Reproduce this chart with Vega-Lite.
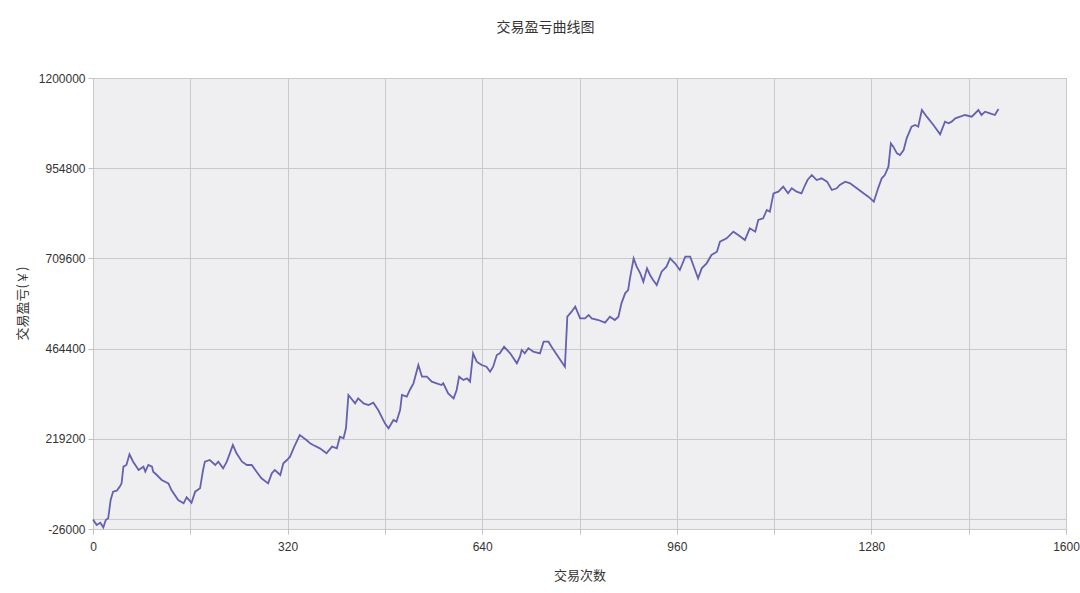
{
  "$schema": "https://vega.github.io/schema/vega-lite/v6.json",
  "width": 973,
  "height": 451,
  "autosize": "none",
  "padding": {"left": 93, "top": 78, "right": 14, "bottom": 64},
  "background": "white",
  "title": {
    "text": "交易盈亏曲线图",
    "anchor": "middle",
    "frame": "group",
    "dx": -34,
    "offset": 37,
    "font": "Noto Sans CJK SC",
    "fontSize": 14,
    "fontWeight": "normal",
    "color": "#333333"
  },
  "encoding": {
    "y": {
      "field": "pnl",
      "type": "quantitative",
      "scale": {"domain": [-26000, 1200000], "nice": false, "zero": false},
      "axis": {
        "title": "交易盈亏(￥)",
        "values": [-26000, 219200, 464400, 709600, 954800, 1200000],
        "labelExpr": "'' + datum.value",
        "titleX": -71,
        "titleY": 225,
        "titleAlign": "center",
        "titleBaseline": "middle",
        "titleAngle": -90
      }
    }
  },
  "layer": [
    {
      "data": {"values": [{"pnl": 0}]},
      "mark": {"type": "rule", "color": "#c9c8cd", "strokeWidth": 1},
      "encoding": {}
    },
    {
      "data": {
        "values": [
          {"trade": 0, "pnl": 0}, {"trade": 6, "pnl": -15100}, {"trade": 12, "pnl": -8800},
          {"trade": 17, "pnl": -21500}, {"trade": 21, "pnl": -1500}, {"trade": 25, "pnl": 3000},
          {"trade": 29, "pnl": 52800}, {"trade": 33, "pnl": 75500}, {"trade": 39, "pnl": 78200},
          {"trade": 44, "pnl": 89100}, {"trade": 47, "pnl": 98100}, {"trade": 50, "pnl": 143400},
          {"trade": 55, "pnl": 148000}, {"trade": 60, "pnl": 177000}, {"trade": 66, "pnl": 157000},
          {"trade": 75, "pnl": 134400}, {"trade": 83, "pnl": 143400}, {"trade": 86, "pnl": 129800},
          {"trade": 91, "pnl": 148000}, {"trade": 97, "pnl": 143400}, {"trade": 99, "pnl": 129800},
          {"trade": 105, "pnl": 120800}, {"trade": 113, "pnl": 107200}, {"trade": 124, "pnl": 98100},
          {"trade": 129, "pnl": 80000}, {"trade": 140, "pnl": 52800}, {"trade": 149, "pnl": 43800},
          {"trade": 154, "pnl": 60100}, {"trade": 162, "pnl": 45600}, {"trade": 168, "pnl": 75500},
          {"trade": 176, "pnl": 84600}, {"trade": 181, "pnl": 134400}, {"trade": 184, "pnl": 157000},
          {"trade": 192, "pnl": 161600}, {"trade": 201, "pnl": 148000}, {"trade": 206, "pnl": 157000},
          {"trade": 214, "pnl": 138900}, {"trade": 220, "pnl": 157000}, {"trade": 225, "pnl": 179700},
          {"trade": 230, "pnl": 202300}, {"trade": 236, "pnl": 179700}, {"trade": 245, "pnl": 157000},
          {"trade": 253, "pnl": 148000}, {"trade": 261, "pnl": 148000}, {"trade": 269, "pnl": 129800},
          {"trade": 277, "pnl": 111700}, {"trade": 288, "pnl": 98100}, {"trade": 294, "pnl": 125300},
          {"trade": 299, "pnl": 134400}, {"trade": 308, "pnl": 120800}, {"trade": 313, "pnl": 152500},
          {"trade": 319, "pnl": 161600}, {"trade": 324, "pnl": 170600}, {"trade": 331, "pnl": 197800},
          {"trade": 340, "pnl": 229500}, {"trade": 351, "pnl": 215900}, {"trade": 357, "pnl": 206900},
          {"trade": 362, "pnl": 202300}, {"trade": 373, "pnl": 193300}, {"trade": 384, "pnl": 179700},
          {"trade": 393, "pnl": 197800}, {"trade": 401, "pnl": 193300}, {"trade": 406, "pnl": 225000},
          {"trade": 412, "pnl": 220500}, {"trade": 416, "pnl": 247700}, {"trade": 420, "pnl": 338300},
          {"trade": 431, "pnl": 315600}, {"trade": 436, "pnl": 329200}, {"trade": 445, "pnl": 315600},
          {"trade": 453, "pnl": 311100}, {"trade": 461, "pnl": 317400}, {"trade": 469, "pnl": 297500},
          {"trade": 480, "pnl": 261300}, {"trade": 486, "pnl": 247700}, {"trade": 494, "pnl": 270300},
          {"trade": 499, "pnl": 265800}, {"trade": 505, "pnl": 297500}, {"trade": 508, "pnl": 338300},
          {"trade": 516, "pnl": 333700}, {"trade": 521, "pnl": 351900}, {"trade": 527, "pnl": 370000},
          {"trade": 535, "pnl": 419800}, {"trade": 541, "pnl": 388100}, {"trade": 549, "pnl": 388100},
          {"trade": 557, "pnl": 374500}, {"trade": 565, "pnl": 370000}, {"trade": 573, "pnl": 365500},
          {"trade": 576, "pnl": 370000}, {"trade": 584, "pnl": 342800}, {"trade": 593, "pnl": 329200},
          {"trade": 598, "pnl": 351900}, {"trade": 602, "pnl": 388100}, {"trade": 609, "pnl": 379000},
          {"trade": 615, "pnl": 383600}, {"trade": 620, "pnl": 374500}, {"trade": 625, "pnl": 451500},
          {"trade": 631, "pnl": 428900}, {"trade": 639, "pnl": 419800}, {"trade": 647, "pnl": 415300},
          {"trade": 653, "pnl": 401700}, {"trade": 658, "pnl": 415300}, {"trade": 664, "pnl": 447000},
          {"trade": 669, "pnl": 451500}, {"trade": 676, "pnl": 469600}, {"trade": 686, "pnl": 451500},
          {"trade": 697, "pnl": 424400}, {"trade": 702, "pnl": 442500}, {"trade": 705, "pnl": 460600},
          {"trade": 710, "pnl": 451500}, {"trade": 716, "pnl": 465100}, {"trade": 724, "pnl": 456100},
          {"trade": 735, "pnl": 451500}, {"trade": 741, "pnl": 483200}, {"trade": 749, "pnl": 483200},
          {"trade": 754, "pnl": 469600}, {"trade": 763, "pnl": 447000}, {"trade": 776, "pnl": 415300},
          {"trade": 780, "pnl": 551200}, {"trade": 787, "pnl": 564800}, {"trade": 793, "pnl": 578400},
          {"trade": 801, "pnl": 546700}, {"trade": 809, "pnl": 546700}, {"trade": 815, "pnl": 555700},
          {"trade": 820, "pnl": 546700}, {"trade": 831, "pnl": 542100}, {"trade": 842, "pnl": 534900},
          {"trade": 850, "pnl": 551200}, {"trade": 858, "pnl": 542100}, {"trade": 864, "pnl": 551200},
          {"trade": 869, "pnl": 587500}, {"trade": 875, "pnl": 614600}, {"trade": 880, "pnl": 623700},
          {"trade": 883, "pnl": 655400}, {"trade": 889, "pnl": 709800}, {"trade": 894, "pnl": 687100},
          {"trade": 900, "pnl": 669000}, {"trade": 905, "pnl": 646300}, {"trade": 911, "pnl": 682600},
          {"trade": 916, "pnl": 664500}, {"trade": 921, "pnl": 650900}, {"trade": 927, "pnl": 637300},
          {"trade": 935, "pnl": 673500}, {"trade": 943, "pnl": 687100}, {"trade": 949, "pnl": 709800},
          {"trade": 957, "pnl": 696200}, {"trade": 965, "pnl": 678100}, {"trade": 974, "pnl": 714300},
          {"trade": 982, "pnl": 714300}, {"trade": 990, "pnl": 678100}, {"trade": 995, "pnl": 655400},
          {"trade": 1001, "pnl": 682600}, {"trade": 1009, "pnl": 696200}, {"trade": 1017, "pnl": 718800},
          {"trade": 1026, "pnl": 727900}, {"trade": 1031, "pnl": 755100}, {"trade": 1042, "pnl": 764200},
          {"trade": 1053, "pnl": 782300}, {"trade": 1061, "pnl": 773200}, {"trade": 1072, "pnl": 759600},
          {"trade": 1080, "pnl": 791300}, {"trade": 1089, "pnl": 782300}, {"trade": 1094, "pnl": 814000},
          {"trade": 1102, "pnl": 818500}, {"trade": 1108, "pnl": 841200}, {"trade": 1113, "pnl": 836600},
          {"trade": 1119, "pnl": 886500}, {"trade": 1127, "pnl": 891000}, {"trade": 1135, "pnl": 904600},
          {"trade": 1143, "pnl": 886500}, {"trade": 1149, "pnl": 900100}, {"trade": 1157, "pnl": 891000},
          {"trade": 1165, "pnl": 886500}, {"trade": 1171, "pnl": 909100}, {"trade": 1175, "pnl": 922700},
          {"trade": 1182, "pnl": 936300}, {"trade": 1190, "pnl": 922700}, {"trade": 1198, "pnl": 927300},
          {"trade": 1207, "pnl": 918200}, {"trade": 1215, "pnl": 895500}, {"trade": 1223, "pnl": 900100},
          {"trade": 1228, "pnl": 909100}, {"trade": 1237, "pnl": 918200}, {"trade": 1245, "pnl": 913700},
          {"trade": 1256, "pnl": 900100}, {"trade": 1267, "pnl": 886500}, {"trade": 1275, "pnl": 877400},
          {"trade": 1284, "pnl": 863800}, {"trade": 1291, "pnl": 900100}, {"trade": 1297, "pnl": 927300},
          {"trade": 1302, "pnl": 936300}, {"trade": 1308, "pnl": 959000}, {"trade": 1312, "pnl": 1022400},
          {"trade": 1316, "pnl": 1013300}, {"trade": 1322, "pnl": 995200}, {"trade": 1327, "pnl": 990700},
          {"trade": 1333, "pnl": 1004300}, {"trade": 1338, "pnl": 1036000}, {"trade": 1346, "pnl": 1067700},
          {"trade": 1352, "pnl": 1072200}, {"trade": 1357, "pnl": 1067700}, {"trade": 1363, "pnl": 1113000},
          {"trade": 1371, "pnl": 1094900}, {"trade": 1382, "pnl": 1072200}, {"trade": 1393, "pnl": 1046900},
          {"trade": 1401, "pnl": 1081300}, {"trade": 1407, "pnl": 1076800}, {"trade": 1412, "pnl": 1081300},
          {"trade": 1418, "pnl": 1090400}, {"trade": 1426, "pnl": 1094900}, {"trade": 1434, "pnl": 1099400},
          {"trade": 1445, "pnl": 1094900}, {"trade": 1456, "pnl": 1113000}, {"trade": 1461, "pnl": 1099400},
          {"trade": 1467, "pnl": 1108500}, {"trade": 1475, "pnl": 1104000}, {"trade": 1483, "pnl": 1099400},
          {"trade": 1489, "pnl": 1115700}
        ]
      },
      "mark": {"type": "line", "color": "#6461b2", "strokeWidth": 1.8, "strokeJoin": "miter"},
      "encoding": {
        "x": {
          "field": "trade",
          "type": "quantitative",
          "scale": {"domain": [0, 1600], "nice": false},
          "axis": {
            "title": "交易次数",
            "values": [0, 160, 320, 480, 640, 800, 960, 1120, 1280, 1440, 1600],
            "labelExpr": "datum.value % 320 === 0 ? '' + datum.value : ''",
            "titleX": 486.5,
            "titleY": 46,
            "titleAlign": "center",
            "titleBaseline": "middle"
          }
        }
      }
    }
  ],
  "config": {
    "view": {"fill": "#efeef1", "stroke": "#c8c7cc", "strokeWidth": 1},
    "axis": {
      "grid": true,
      "gridColor": "#c9c8cd",
      "gridOpacity": 1,
      "gridWidth": 1,
      "domain": false,
      "ticks": true,
      "tickSize": 5,
      "tickColor": "#c0bfc4",
      "labelFont": "Liberation Sans",
      "labelFontSize": 12,
      "labelColor": "#333333",
      "labelPadding": 3,
      "labelFlush": false,
      "labelOverlap": false,
      "titleFont": "Noto Sans CJK SC",
      "titleFontSize": 13,
      "titleFontWeight": "normal",
      "titleColor": "#333333"
    },
    "axisX": {"labelPadding": 7}
  }
}
